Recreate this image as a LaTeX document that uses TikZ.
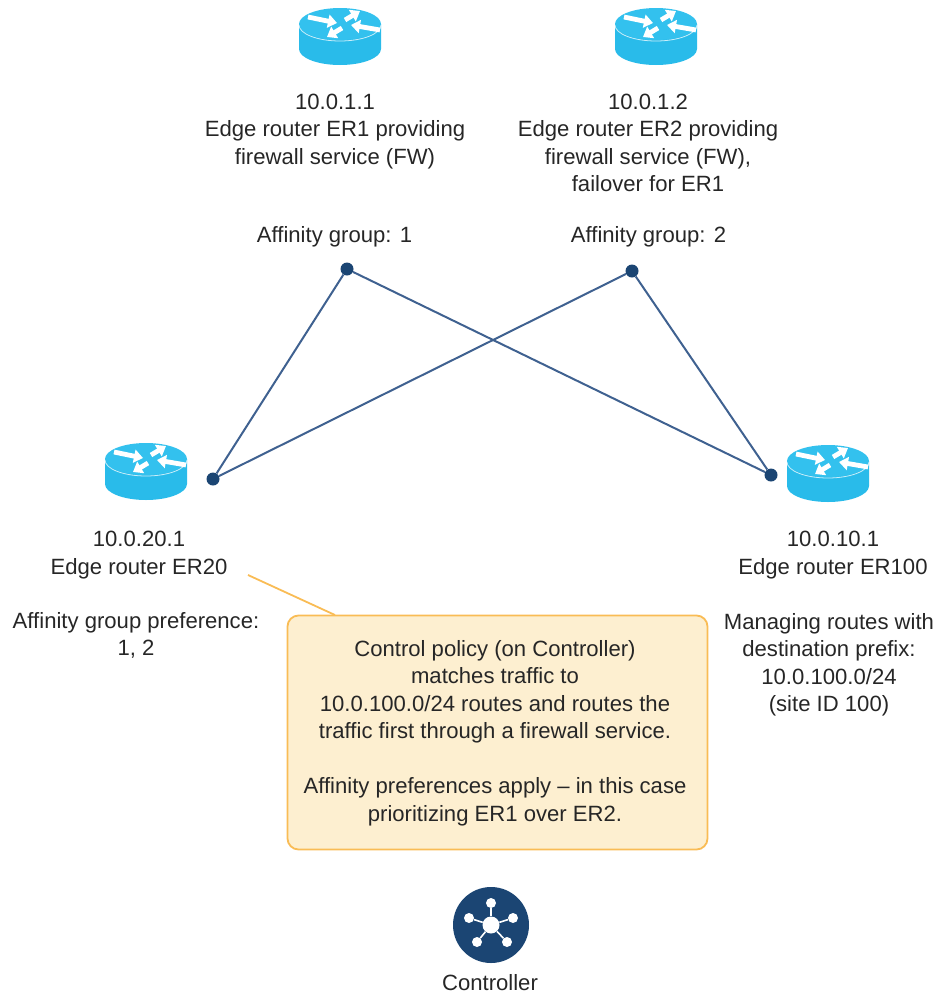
\documentclass[tikz,border=0pt]{standalone}
\usepackage{fontspec}
\setmainfont{Liberation Sans}
\usetikzlibrary{arrows.meta}
\definecolor{routerblue}{HTML}{29BBEA}
\definecolor{routertop}{HTML}{33C1EE}
\definecolor{navy}{HTML}{1B4573}
\definecolor{linkblue}{HTML}{3F6190}
\definecolor{boxfill}{HTML}{FDEFD0}
\definecolor{boxline}{HTML}{F9BC55}
\definecolor{inktext}{HTML}{262626}
\tikzset{
  x=1pt,y=-1pt,
  lab/.style={align=center,text=inktext,font=\fontsize{22.1}{27.5}\selectfont,inner sep=0pt},
  endpoint/.style={circle,fill=navy,draw=none,minimum size=13pt,inner sep=0pt},
  link/.style={draw=linkblue,line width=2pt},
  arw/.style={white,line width=4.8pt,-{Triangle[length=9pt,width=13pt]}},
  sat/.style={circle,fill=white,minimum size=10pt,inner sep=0pt},
  spoke/.style={white,line width=1.6pt},
  pics/router/.style={code={
    \fill[routerblue] (-41,0) -- (-41,25) arc[start angle=180,end angle=0,x radius=41,y radius=16] -- (41,0) -- cycle;
    \fill[routertop] (0,0) ellipse[x radius=41,y radius=16];
    \draw[white,opacity=.75,line width=.8pt] (-41,1) arc[start angle=180,end angle=0,x radius=41,y radius=16];
    \draw[arw] (-32,-7) -- (-3,-1);
    \draw[arw] (5,-4) -- (20,-13);
    \draw[arw] (40,6) -- (11,1);
    \draw[arw] (2,4) -- (-13,13);
  }}
}
\begin{document}
\begin{tikzpicture}
\useasboundingbox (0,0) rectangle (940,994);
\pic at (340,24) {router};
\pic at (656,24) {router};
\pic at (146,459) {router};
\pic at (828,461) {router};

\node[endpoint] (a1) at (347,269) {};
\node[endpoint] (a2) at (632,271) {};
\node[endpoint] (er20) at (213,479) {};
\node[endpoint] (er100) at (771,475) {};
\draw[link] (a1) -- (er20);
\draw[link] (a1) -- (er100);
\draw[link] (a2) -- (er20);
\draw[link] (a2) -- (er100);

\coordinate (cstart) at (248,575);
\node[draw=boxline,fill=boxfill,line width=1.8pt,rounded corners=11pt,minimum width=420pt,minimum height=234pt,inner sep=0pt] (policy) at (497.5,732.5) {};
\coordinate (cend) at (335,615);
\draw[boxline,line width=1.8pt] (cstart) -- (cend);

\node[lab,anchor=north] (t1) at (335,93.5) {10.0.1.1\\Edge router ER1 providing\\firewall service (FW)};
\node[lab,anchor=north] (t2) at (648,93.5) {10.0.1.2\\Edge router ER2 providing\\firewall service (FW),\\failover for ER1};
\node[lab] (g1) at (334.5,237) {Affinity group: 1};
\node[lab] (g2) at (648.5,237) {Affinity group: 2};
\node[lab,anchor=north] (t3) at (139,531) {10.0.20.1\\Edge router ER20};
\node[lab,anchor=north] (t4) at (136,612) {Affinity group preference:\\1, 2};
\node[lab,anchor=north] (t5) at (833,531) {10.0.10.1\\Edge router ER100};
\node[lab,anchor=north] (t6) at (829,613) {Managing routes with\\destination prefix:\\10.0.100.0/24\\(site ID 100)};
\node[lab] (pt) at (495,733) {Control policy (on Controller)\\matches traffic to\\10.0.100.0/24 routes and routes the\\traffic first through a firewall service.\\[27.5pt]Affinity preferences apply – in this case\\prioritizing ER1 over ER2.};

\node[circle,fill=navy,minimum size=76pt,inner sep=0pt] (ctrl) at (491,925) {};
\node[circle,fill=white,minimum size=17pt,inner sep=0pt] (hub) at (491,925) {};
\node[sat] (s1) at (491,903) {};
\node[sat] (s2) at (513,918) {};
\node[sat] (s3) at (469,918) {};
\node[sat] (s4) at (507,942) {};
\node[sat] (s5) at (477,942) {};
\foreach \s in {s1,s2,s3,s4,s5} \draw[spoke] (hub) -- (\s);
\node[lab] (cl) at (490,983) {Controller};
\end{tikzpicture}
\end{document}
